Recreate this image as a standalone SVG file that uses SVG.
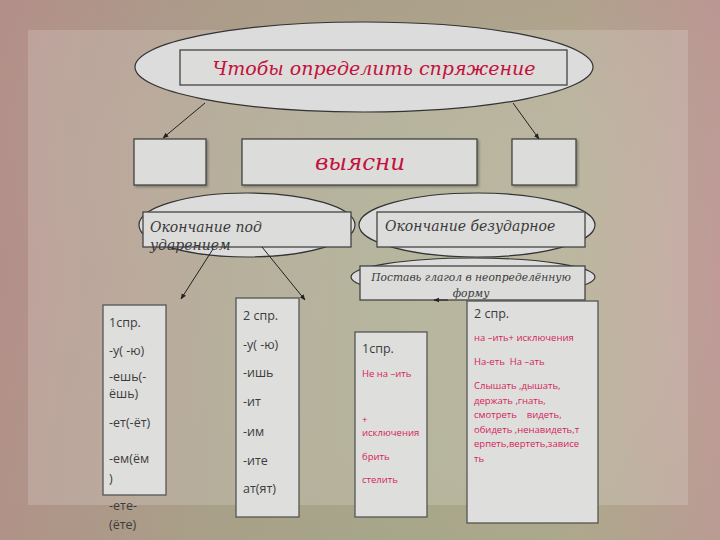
<svg xmlns="http://www.w3.org/2000/svg" width="720" height="540" viewBox="0 0 720 540">
<defs>
<linearGradient id="bg" x1="0" y1="0" x2="1" y2="0">
<stop offset="0" stop-color="#b48f8a"/>
<stop offset="0.3" stop-color="#aaa08a"/>
<stop offset="0.55" stop-color="#a9a88c"/>
<stop offset="0.8" stop-color="#b0aa8e"/>
<stop offset="1" stop-color="#c09a98"/>
</linearGradient>
<linearGradient id="bgv" x1="0" y1="0" x2="0" y2="1">
<stop offset="0" stop-color="#b09088" stop-opacity="0.3"/>
<stop offset="0.5" stop-color="#a8a890" stop-opacity="0"/>
<stop offset="1" stop-color="#a0a080" stop-opacity="0.2"/>
</linearGradient>
<marker id="ah" viewBox="0 0 10 10" refX="9" refY="5" markerWidth="6" markerHeight="6" orient="auto-start-reverse">
<path d="M0,1 L10,5 L0,9 z" fill="#222"/>
</marker>
<filter id="sh" x="-10%" y="-10%" width="130%" height="130%">
<feDropShadow dx="1.5" dy="1.5" stdDeviation="1" flood-color="#000" flood-opacity="0.3"/>
</filter>
</defs>
<style>
.ell{fill:#dcdcdc;stroke:#333;stroke-width:1.2}
.box{fill:#dcdcda;stroke:#444;stroke-width:1.3}
.cbox{fill:#dededc;stroke:#555;stroke-width:1.3}
.ttl{font-family:"DejaVu Serif","Liberation Serif",serif;font-style:italic;fill:#c4103c}
.sub{font-family:"DejaVu Serif","Liberation Serif",serif;font-style:italic;fill:#3a3a3a}
.t{font-family:"Open Sans","Noto Sans",sans-serif;fill:#3c3c3c;font-size:12.5px}
.r{font-family:"Open Sans","Noto Sans",sans-serif;fill:#d4245a;font-size:9.5px}
.con{stroke:#222;stroke-width:1;fill:none;marker-end:url(#ah)}
</style>
<rect width="720" height="540" fill="url(#bg)"/>
<rect width="720" height="540" fill="url(#bgv)"/>
<rect x="28" y="30" width="660" height="475" fill="#ffffff" fill-opacity="0.16"/>

<g id="top">
<ellipse class="ell" cx="364" cy="67" rx="229" ry="45"/>
<rect class="box" x="180" y="50" width="387" height="35"/>
<text class="ttl" x="374" y="75" font-size="19" text-anchor="middle">Чтобы определить спряжение</text>
</g>
<g id="leftsmall"><rect class="box" x="134" y="139" width="72" height="46" filter="url(#sh)"/></g>
<g id="find"><rect class="box" x="242" y="139" width="235" height="46" filter="url(#sh)"/>
<text class="ttl" x="360" y="170" font-size="23" text-anchor="middle">выясни</text></g>
<g id="rightsmall"><rect class="box" x="512" y="139" width="64" height="46" filter="url(#sh)"/></g>

<g id="stressed">
<ellipse class="ell" cx="247" cy="225" rx="108" ry="32"/>
<rect class="box" x="143" y="212" width="208" height="35"/>
<text class="sub" font-size="14"><tspan x="150" y="232">Окончание под</tspan><tspan x="150" y="250">ударением</tspan></text>
</g>
<g id="unstressed">
<ellipse class="ell" cx="477" cy="225" rx="118" ry="32"/>
<rect class="box" x="377" y="212" width="208" height="35"/>
<text class="sub" x="385" y="231" font-size="14">Окончание безударное</text>
</g>
<g id="infinitive">
<ellipse class="ell" cx="473" cy="277" rx="122" ry="19"/>
<rect class="box" x="360" y="266" width="225" height="34"/>
<text class="sub" font-size="10.7" text-anchor="middle"><tspan x="471" y="281">Поставь глагол в неопределённую</tspan><tspan x="471" y="297">форму</tspan></text>
</g>

<g id="connectors">
<line class="con" x1="205" y1="103" x2="163" y2="138"/>
<line class="con" x1="513" y1="103" x2="539" y2="139"/>
<line class="con" x1="213" y1="249" x2="181" y2="299"/>
<line class="con" x1="262" y1="247" x2="305" y2="300"/>
<line class="con" x1="448" y1="300" x2="434" y2="300"/>
</g>

<g id="conj1a">
<rect class="cbox" x="103" y="305" width="63" height="190"/>
<text class="t"><tspan x="109" y="327">1спр.</tspan><tspan x="109" y="355">-у( -ю)</tspan><tspan x="109" y="381">-ешь(-</tspan><tspan x="109" y="398">ёшь)</tspan><tspan x="109" y="427">-ет(-ёт)</tspan><tspan x="109" y="463">-ем(ём</tspan><tspan x="109" y="483">)</tspan><tspan x="109" y="510">-ете-</tspan><tspan x="109" y="529">(ёте)</tspan></text>
</g>
<g id="conj2a">
<rect class="cbox" x="236" y="298" width="63" height="219"/>
<text class="t"><tspan x="243" y="320">2 спр.</tspan><tspan x="243" y="349">-у( -ю)</tspan><tspan x="243" y="377">-ишь</tspan><tspan x="243" y="406">-ит</tspan><tspan x="243" y="436">-им</tspan><tspan x="243" y="465">-ите</tspan><tspan x="243" y="493">ат(ят)</tspan></text>
</g>
<g id="conj1b">
<rect class="cbox" x="355" y="332" width="72" height="185"/>
<text class="t" x="362" y="353" font-size="14">1спр.</text>
<text class="r"><tspan x="362" y="377">Не на –ить</tspan><tspan x="362" y="423">+</tspan><tspan x="362" y="436">исключения</tspan><tspan x="362" y="460">брить</tspan><tspan x="362" y="483">стелить</tspan></text>
</g>
<g id="conj2b">
<rect class="cbox" x="467" y="301" width="131" height="222"/>
<text class="t" x="474" y="318" font-size="14">2 спр.</text>
<text class="r" x="474" y="341" font-size="8">на –ить+ исключения</text>
<text class="r" x="474" y="365" font-size="10">На-еть&#160; На –ать</text>
<text class="r" font-size="10"><tspan x="474" y="389">Слышать ,дышать,</tspan><tspan x="474" y="404">держать ,гнать,</tspan><tspan x="474" y="418">смотреть&#160;&#160;&#160; видеть,</tspan><tspan x="474" y="433">обидеть ,ненавидеть,т</tspan><tspan x="474" y="447">ерпеть,вертеть,зависе</tspan><tspan x="474" y="462">ть</tspan></text>
</g>
</svg>
